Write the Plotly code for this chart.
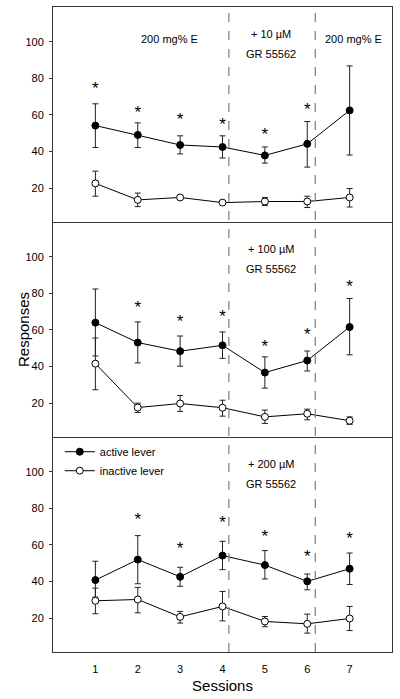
import plotly.graph_objects as go
from plotly.subplots import make_subplots

sessions = [1, 2, 3, 4, 5, 6, 7]

# Panel 1 (+10 uM)
p1_active = [54.2, 49.1, 43.6, 42.5, 37.9, 44.2, 62.5]
p1_active_hi = [66.1, 55.7, 48.6, 48.6, 42.5, 56.4, 86.8]
p1_active_lo = [42.2, 42.2, 38.7, 36.5, 33.7, 31.5, 38.1]
p1_inactive = [22.6, 13.6, 14.9, 12.1, 12.7, 12.7, 14.9]
p1_inactive_hi = [29.3, 17.3, 15.9, 12.8, 14.9, 15.6, 19.8]
p1_inactive_lo = [15.6, 9.9, 13.9, 11.4, 10.5, 9.4, 9.7]
p1_star_x = [1, 2, 3, 4, 5, 6]
p1_star_y = [73.8, 60.6, 56.6, 54.2, 48.7, 62.5]

# Panel 2 (+100 uM)
p2_active = [64.0, 53.1, 48.4, 51.6, 36.7, 43.3, 61.6]
p2_active_hi = [82.4, 64.4, 56.7, 58.9, 45.3, 48.5, 77.2]
p2_active_lo = [45.8, 42.0, 40.2, 44.5, 28.2, 37.6, 46.4]
p2_inactive = [41.6, 17.6, 19.8, 17.5, 12.5, 14.2, 10.4]
p2_inactive_hi = [55.6, 20.0, 24.2, 21.6, 16.2, 16.7, 12.5]
p2_inactive_lo = [27.3, 14.9, 15.5, 12.9, 8.9, 10.9, 8.4]
p2_star_x = [2, 3, 4, 5, 6, 7]
p2_star_y = [71.8, 64.2, 66.7, 50.4, 56.7, 83.3]

# Panel 3 (+200 uM)
p3_active = [40.8, 52.0, 42.6, 54.2, 49.0, 40.1, 47.0]
p3_active_hi = [51.1, 65.1, 47.8, 62.0, 56.9, 44.1, 55.6]
p3_active_lo = [31.5, 38.8, 37.4, 46.5, 41.4, 35.5, 38.4]
p3_inactive = [29.5, 30.2, 20.7, 26.4, 18.2, 16.9, 19.8]
p3_inactive_hi = [36.4, 36.8, 23.7, 34.6, 20.9, 22.2, 26.4]
p3_inactive_lo = [22.4, 22.9, 17.3, 18.5, 15.3, 11.8, 13.2]
p3_star_x = [2, 3, 4, 5, 6, 7]
p3_star_y = [73.3, 57.4, 71.5, 64.2, 52.9, 62.9]

y_ticks = [20, 40, 60, 80, 100]
x_ticks = [1, 2, 3, 4, 5, 6, 7]
drug_labels = ["+ 10 \u00b5M", "+ 100 \u00b5M", "+ 200 \u00b5M"]
boundaries = [4.15, 6.19]

panels = [
    (p1_active, p1_active_hi, p1_active_lo, p1_inactive, p1_inactive_hi, p1_inactive_lo, p1_star_x, p1_star_y),
    (p2_active, p2_active_hi, p2_active_lo, p2_inactive, p2_inactive_hi, p2_inactive_lo, p2_star_x, p2_star_y),
    (p3_active, p3_active_hi, p3_active_lo, p3_inactive, p3_inactive_hi, p3_inactive_lo, p3_star_x, p3_star_y),
]

FONT = "Liberation Sans, Arial, sans-serif"
AXIS_COLOR = "#333333"

fig = make_subplots(rows=3, cols=1, shared_xaxes=True, vertical_spacing=0)

for i, (a, ahi, alo, n, nhi, nlo, sx, sy) in enumerate(panels):
    row = i + 1
    show = row == 3
    fig.add_trace(go.Scatter(
        x=sessions, y=a, mode="lines+markers", name="active lever",
        showlegend=show, legendrank=1,
        line=dict(color="black", width=1),
        marker=dict(symbol="circle", size=7, color="black", line=dict(color="black", width=1)),
        error_y=dict(type="data", symmetric=False,
                     array=[h - v for h, v in zip(ahi, a)],
                     arrayminus=[v - l for v, l in zip(a, alo)],
                     color="#222", thickness=1, width=3),
    ), row=row, col=1)
    fig.add_trace(go.Scatter(
        x=sessions, y=n, mode="lines+markers", name="inactive lever",
        showlegend=show, legendrank=2,
        line=dict(color="black", width=1),
        marker=dict(symbol="circle", size=7, color="white", line=dict(color="black", width=1)),
        error_y=dict(type="data", symmetric=False,
                     array=[h - v for h, v in zip(nhi, n)],
                     arrayminus=[v - l for v, l in zip(n, nlo)],
                     color="#222", thickness=1, width=3),
    ), row=row, col=1)
    fig.add_trace(go.Scatter(
        x=sx, y=sy, mode="text", text=["*"] * len(sx), showlegend=False,
        textfont=dict(family=FONT, size=17, color="black"), hoverinfo="skip",
    ), row=row, col=1)

    yref = "y" if row == 1 else f"y{row}"
    xref = "x" if row == 1 else f"x{row}"
    fig.add_annotation(x=5.15, y=104.5, xref=xref, yref=yref, text=drug_labels[i],
                       showarrow=False, font=dict(family=FONT, size=11, color="black"))
    fig.add_annotation(x=5.15, y=93.5, xref=xref, yref=yref, text="GR 55562",
                       showarrow=False, font=dict(family=FONT, size=11, color="black"))
    if row == 1:
        fig.add_annotation(x=2.75, y=101.5, xref=xref, yref=yref, text="200 mg% E",
                           showarrow=False, font=dict(family=FONT, size=11, color="black"))
        fig.add_annotation(x=7.09, y=101.5, xref=xref, yref=yref, text="200 mg% E",
                           showarrow=False, font=dict(family=FONT, size=11, color="black"))

    fig.update_yaxes(range=[1.5, 119], tickvals=y_ticks, showgrid=False, zeroline=False,
                     showline=True, mirror=True, linecolor=AXIS_COLOR, linewidth=1,
                     ticks="outside", ticklen=3, tickcolor=AXIS_COLOR, automargin=False,
                     ticklabelstandoff=3,
                     tickfont=dict(family=FONT, size=11, color="black"),
                     row=row, col=1)
    fig.update_xaxes(range=[0, 8], tickvals=x_ticks, showgrid=False, zeroline=False,
                     showline=True, mirror=(row == 1), linecolor=AXIS_COLOR, linewidth=1,
                     ticks="", automargin=False, ticklabelstandoff=7,
                     tickfont=dict(family=FONT, size=11, color="black"),
                     showticklabels=show, row=row, col=1)

for b in boundaries:
    fig.add_shape(type="line", x0=b, x1=b, y0=0, y1=1, xref="x3", yref="paper",
                  line=dict(color="#888888", width=1.3, dash="dash"))

fig.update_xaxes(title=dict(text="Sessions", font=dict(family=FONT, size=15, color="black"), standoff=6),
                 row=3, col=1)
fig.add_annotation(x=-0.118, y=0.5, xref="paper", yref="paper", text="Responses", textangle=-90,
                   showarrow=False, font=dict(family=FONT, size=15, color="black"))

fig.update_layout(
    width=400, height=699,
    margin=dict(l=53, r=8, t=7, b=47, autoexpand=False),
    paper_bgcolor="white", plot_bgcolor="white",
    legend=dict(x=0.02, y=0.333, xanchor="left", yanchor="top", bgcolor="rgba(0,0,0,0)",
                font=dict(family=FONT, size=11, color="black"), tracegroupgap=0,
                itemwidth=30),
    showlegend=True,
)

fig.write_html("out.html", config={"displayModeBar": False},
               post_script="document.body.style.margin='0';")
